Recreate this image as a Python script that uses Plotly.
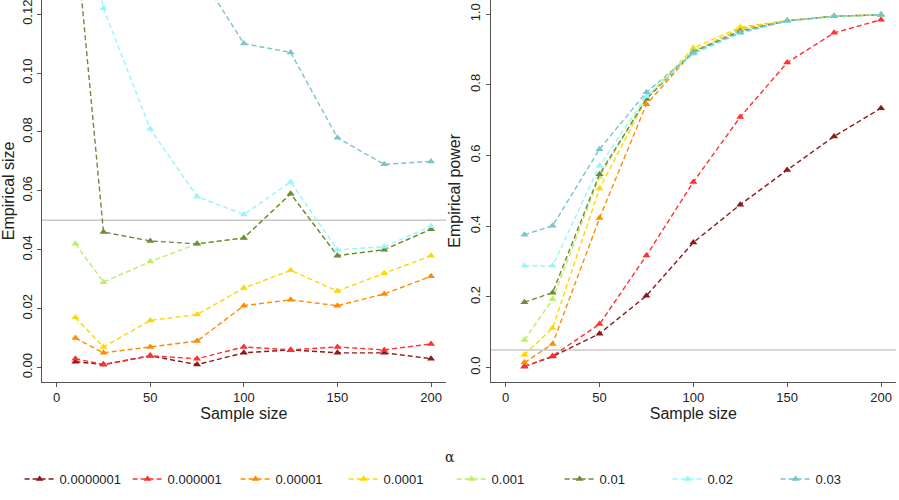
import plotly.graph_objects as go

# tamanhos de amostra (eixo x dos dois paineis)
sample_size = [10, 25, 50, 75, 100, 125, 150, 175, 200]

alpha_labels = ["0.0000001", "0.000001", "0.00001", "0.0001", "0.001", "0.01", "0.02", "0.03"]
alpha_colors = ["#8B1A1A", "#FF3030", "#FF8C00", "#FFD700", "#BCEE68", "#6E8B3D", "#98F5FF", "#7AC5CD"]

# painel esquerdo: tamanho empirico
size_1e7 = [0.002, 0.001, 0.004, 0.001, 0.005, 0.006, 0.005, 0.005, 0.003]
size_1e6 = [0.003, 0.001, 0.004, 0.003, 0.007, 0.006, 0.007, 0.006, 0.008]
size_1e5 = [0.010, 0.005, 0.007, 0.009, 0.021, 0.023, 0.021, 0.025, 0.031]
size_1e4 = [0.017, 0.007, 0.016, 0.018, 0.027, 0.033, 0.026, 0.032, 0.038]
size_1e3 = [0.042, 0.029, 0.036, 0.042, 0.044, 0.059, 0.038, 0.040, 0.047]
size_1e2 = [0.148, 0.046, 0.043, 0.042, 0.044, 0.059, 0.038, 0.040, 0.047]
size_2e2 = [0.170, 0.122, 0.081, 0.058, 0.052, 0.063, 0.040, 0.041, 0.048]
size_3e2 = [0.260, 0.200, 0.160, 0.135, 0.110, 0.107, 0.078, 0.069, 0.070]

# painel direito: poder empirico
pow_1e7 = [0.003, 0.031, 0.096, 0.203, 0.354, 0.461, 0.559, 0.654, 0.734]
pow_1e6 = [0.003, 0.033, 0.123, 0.317, 0.525, 0.709, 0.863, 0.947, 0.984]
pow_1e5 = [0.014, 0.067, 0.423, 0.745, 0.894, 0.958, 0.981, 0.994, 0.998]
pow_1e4 = [0.036, 0.112, 0.507, 0.762, 0.904, 0.963, 0.982, 0.994, 0.998]
pow_1e3 = [0.078, 0.193, 0.540, 0.762, 0.897, 0.955, 0.981, 0.994, 0.998]
pow_1e2 = [0.185, 0.212, 0.547, 0.760, 0.893, 0.952, 0.981, 0.994, 0.998]
pow_2e2 = [0.288, 0.288, 0.571, 0.768, 0.887, 0.946, 0.980, 0.993, 0.998]
pow_3e2 = [0.376, 0.401, 0.618, 0.779, 0.891, 0.948, 0.981, 0.994, 0.998]

size_series = [size_1e7, size_1e6, size_1e5, size_1e4, size_1e3, size_1e2, size_2e2, size_3e2]
power_series = [pow_1e7, pow_1e6, pow_1e5, pow_1e4, pow_1e3, pow_1e2, pow_2e2, pow_3e2]

FONT = "Liberation Sans, Arial, sans-serif"

fig = go.Figure()

for name, color, ys in zip(alpha_labels, alpha_colors, size_series):
  fig.add_trace(go.Scatter(
    x=sample_size, y=ys, name=name, legendgroup=name,
    mode="lines+markers", xaxis="x", yaxis="y",
    line=dict(color=color, width=1.4, dash="5px,3px"),
    marker=dict(symbol="triangle-up", size=7, color=color),
  ))

for name, color, ys in zip(alpha_labels, alpha_colors, power_series):
  fig.add_trace(go.Scatter(
    x=sample_size, y=ys, name=name, legendgroup=name, showlegend=False,
    mode="lines+markers", xaxis="x2", yaxis="y2",
    line=dict(color=color, width=1.4, dash="5px,3px"),
    marker=dict(symbol="triangle-up", size=7, color=color),
  ))

# linha de referencia em 0.05
for xr, yr in [("x domain", "y"), ("x2 domain", "y2")]:
  fig.add_shape(type="line", xref=xr, yref=yr, x0=0, x1=1, y0=0.05, y1=0.05,
                line=dict(color="#C8C8C8", width=1.5), layer="below")

axis_common = dict(
  showline=True, linecolor="#555555", linewidth=1,
  ticks="outside", ticklen=4, tickcolor="#555555",
  showgrid=False, zeroline=False, automargin=False,
  ticklabeloverflow="allow",
  tickfont=dict(size=13, color="#222222"),
)

fig.update_layout(
  width=899, height=500,
  paper_bgcolor="white", plot_bgcolor="white",
  font=dict(family=FONT, size=13, color="#222222"),
  margin=dict(l=0, r=0, t=0, b=0),
  xaxis=dict(domain=[0.0464, 0.4961], range=[-8, 208], tickvals=[0, 50, 100, 150, 200],
             title=dict(text="Sample size", standoff=0), anchor="y", **axis_common),
  yaxis=dict(domain=[0.2366, 1.0], range=[-0.0048, 0.1248], tickvals=[0, 0.02, 0.04, 0.06, 0.08, 0.10, 0.12],
             tickformat=".2f", tickangle=-90, title=dict(text="Empirical size", standoff=3),
             anchor="x", **axis_common),
  xaxis2=dict(domain=[0.5458, 0.9967], range=[-8, 208], tickvals=[0, 50, 100, 150, 200],
              title=dict(text="Sample size", standoff=0), anchor="y2", **axis_common),
  yaxis2=dict(domain=[0.2366, 1.0], range=[-0.04, 1.04], tickvals=[0, 0.2, 0.4, 0.6, 0.8, 1.0],
              tickformat=".1f", tickangle=-90, title=dict(text="Empirical power", standoff=3),
              anchor="x2", **axis_common),
  legend=dict(orientation="h", x=0.0218, xanchor="left", y=0.042, yanchor="middle",
              entrywidth=63, entrywidthmode="pixels", itemwidth=30,
              font=dict(size=13), bgcolor="rgba(0,0,0,0)"),
  showlegend=True,
)

fig.add_annotation(text="α", xref="paper", yref="paper", x=0.5, y=0.066,
                   showarrow=False, font=dict(size=14, family="DejaVu Serif, serif"))

# sem margem no body para a figura ocupar a janela inteira
fig.write_html("out.html", config={"displayModeBar": False},
               post_script="document.body.style.margin='0';")
